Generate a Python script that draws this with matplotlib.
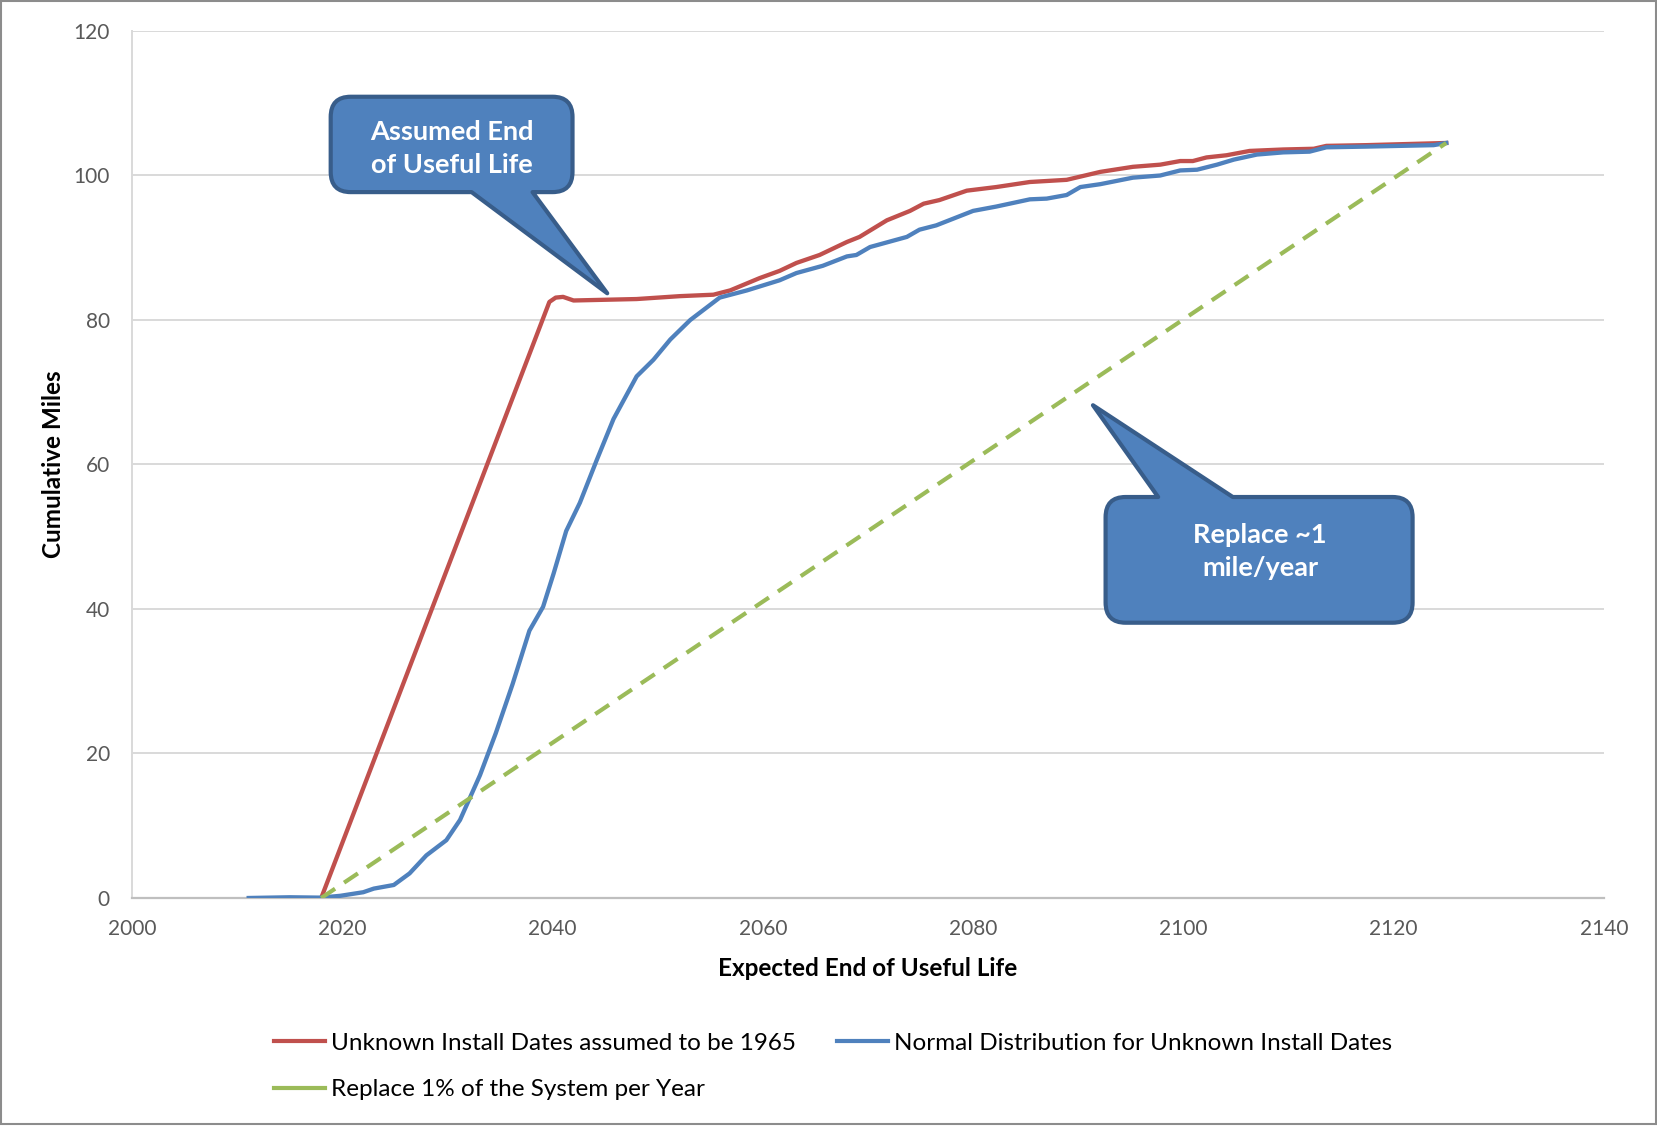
import matplotlib
matplotlib.use("Agg")
import matplotlib.pyplot as plt
from matplotlib.path import Path
from matplotlib.patches import PathPatch, Rectangle

plt.rcParams['font.family'] = ['Lato', 'DejaVu Sans']

# cumulative miles reaching end of useful life, by year
red_years = [2018, 2039.7, 2040.3, 2041.0, 2042.0, 2045, 2048, 2052.1, 2055.3, 2056.9, 2059.7,
             2061.6, 2063.2, 2065.4, 2068.0, 2069.2, 2071.8, 2074.0, 2075.3, 2076.8, 2079.4,
             2082.2, 2085.4, 2088.9, 2092.1, 2095.2, 2097.8, 2099.7, 2100.9, 2102.2, 2104.1,
             2106.3, 2109.5, 2112.4, 2113.6, 2117.4, 2125.0]
red_miles = [0, 82.5, 83.1, 83.2, 82.7, 82.8, 82.9, 83.3, 83.5, 84.1, 85.8,
             86.8, 87.9, 89.0, 90.8, 91.5, 93.8, 95.1, 96.1, 96.6, 97.9,
             98.4, 99.1, 99.4, 100.5, 101.2, 101.5, 102.0, 102.0, 102.5, 102.8,
             103.4, 103.6, 103.7, 104.1, 104.2, 104.5]

blue_years = [2011.1, 2015.0, 2017.9, 2019.8, 2022.0, 2023.0, 2024.9, 2026.4, 2028.0, 2029.9,
              2031.2, 2033.1, 2034.6, 2036.2, 2037.8, 2039.1, 2040.1, 2041.3, 2042.6, 2044.2,
              2045.8, 2048.0, 2049.6, 2051.2, 2053.1, 2055.9, 2058.5, 2061.6, 2063.2, 2065.7,
              2068.0, 2068.9, 2070.2, 2073.7, 2074.9, 2076.5, 2080.0, 2082.2, 2085.4, 2087.0,
              2088.9, 2090.2, 2092.1, 2095.2, 2097.8, 2099.7, 2101.3, 2103.2, 2104.8, 2107.0,
              2109.5, 2112.0, 2113.6, 2117.4, 2123.8, 2125.0]
blue_miles = [0.0, 0.1, 0.05, 0.3, 0.8, 1.3, 1.8, 3.4, 5.9, 8.0,
              10.8, 17.0, 22.8, 29.6, 37.0, 40.3, 44.9, 50.8, 54.7, 60.6,
              66.3, 72.2, 74.5, 77.3, 80.0, 83.1, 84.1, 85.5, 86.5, 87.5,
              88.8, 89.0, 90.1, 91.5, 92.5, 93.1, 95.1, 95.7, 96.7, 96.8,
              97.3, 98.4, 98.8, 99.7, 100.0, 100.7, 100.8, 101.5, 102.2, 102.9,
              103.2, 103.3, 103.9, 104.0, 104.2, 104.5]

green_years = [2018, 2125]
green_miles = [0, 104.5]

labels = ["Unknown Install Dates assumed to be 1965",
          "Normal Distribution for Unknown Install Dates",
          "Replace 1% of the System per Year"]

RED = "#C0504D"
BLUE = "#4F81BD"
GREEN = "#9BBB59"
TICK = "#595959"


def bubble(x0, x1, y0, y1, tb0, tb1, tip, side, rx, ry):
    """rounded box with a pointed tail on the top or bottom edge"""
    M, L, C = Path.MOVETO, Path.LINETO, Path.CURVE3
    v = [(x0 + rx, y1)]
    c = [M]
    if side == "top":
        v += [(tb0, y1), tip, (tb1, y1)]
        c += [L, L, L]
    v += [(x1 - rx, y1), (x1, y1), (x1, y1 - ry), (x1, y0 + ry), (x1, y0), (x1 - rx, y0)]
    c += [L, C, C, L, C, C]
    if side == "bottom":
        v += [(tb1, y0), tip, (tb0, y0)]
        c += [L, L, L]
    v += [(x0 + rx, y0), (x0, y0), (x0, y0 + ry), (x0, y1 - ry), (x0, y1), (x0 + rx, y1), (x0 + rx, y1)]
    c += [L, C, C, L, C, C, Path.CLOSEPOLY]
    return Path(v, c)


fig = plt.figure(figsize=(16.58, 11.27), dpi=100)
ax = fig.add_axes([0.0796, 0.2032, 0.8878, 0.7693])

l_red, = ax.plot(red_years, red_miles, color=RED, lw=3.1, solid_joinstyle="round", zorder=3)
l_blue, = ax.plot(blue_years, blue_miles, color=BLUE, lw=3.1, solid_joinstyle="round", zorder=3)
l_green, = ax.plot(green_years, green_miles, color=GREEN, lw=3, dashes=(4, 2.6), zorder=3)

ax.set_xlim(2000, 2140)
ax.set_ylim(0, 120)
ax.set_xticks(range(2000, 2141, 20))
ax.set_yticks(range(0, 121, 20))
ax.grid(axis="y", color="#D9D9D9", lw=1.4)
ax.set_axisbelow(True)
for s in ["top", "right"]:
    ax.spines[s].set_visible(False)
ax.spines["left"].set_color("#D9D9D9")
ax.spines["left"].set_linewidth(1.4)
ax.spines["bottom"].set_color("#BFBFBF")
ax.spines["bottom"].set_linewidth(1.6)
ax.tick_params(axis="both", length=0, labelsize=15, labelcolor=TICK)
ax.tick_params(axis="x", pad=15)
ax.tick_params(axis="y", pad=16)

ax.set_xlabel("Expected End of Useful Life", fontsize=17.5, fontweight="bold", labelpad=13)
ax.set_ylabel("Cumulative Miles", fontsize=17.5, fontweight="bold", labelpad=6)

# callouts
rx, ry = 1.9, 2.8
p1 = bubble(2018.9, 2041.9, 97.7, 110.9, 2032.3, 2038.1, (2045.2, 83.7), "bottom", rx, ry)
ax.add_patch(PathPatch(p1, facecolor=BLUE, edgecolor="#385D8A", lw=3, joinstyle="round", zorder=5))
ax.text(2030.4, 103.7, "Assumed End\nof Useful Life", color="white", fontsize=19.5,
        fontweight="bold", ha="center", va="center", linespacing=1.46, zorder=6)

p2 = bubble(2092.6, 2121.8, 38.1, 55.5, 2097.6, 2104.7, (2091.4, 68.2), "top", rx, ry)
ax.add_patch(PathPatch(p2, facecolor=BLUE, edgecolor="#385D8A", lw=3, joinstyle="round", zorder=5))
ax.text(2107.3, 48.0, "Replace ~1\nmile/year", color="white", fontsize=19.5,
        fontweight="bold", ha="center", va="center", linespacing=1.46, zorder=6)

leg = fig.legend([l_red, l_green, l_blue], [labels[0], labels[2], labels[1]],
                 ncol=2, loc="upper left", bbox_to_anchor=(0.152, 0.103),
                 frameon=False, fontsize=17.5, handlelength=2.1, handletextpad=0.25,
                 columnspacing=1.7, labelspacing=1.05)
for h in leg.legend_handles:
    h.set_linestyle("-")
    h.set_linewidth(3)

fig.patches.append(Rectangle((0.0006, 0.0025), 0.9982, 0.9965, transform=fig.transFigure,
                             fill=False, edgecolor="#8C8C8C", lw=1.5))

fig.savefig("out.png", dpi=100)
